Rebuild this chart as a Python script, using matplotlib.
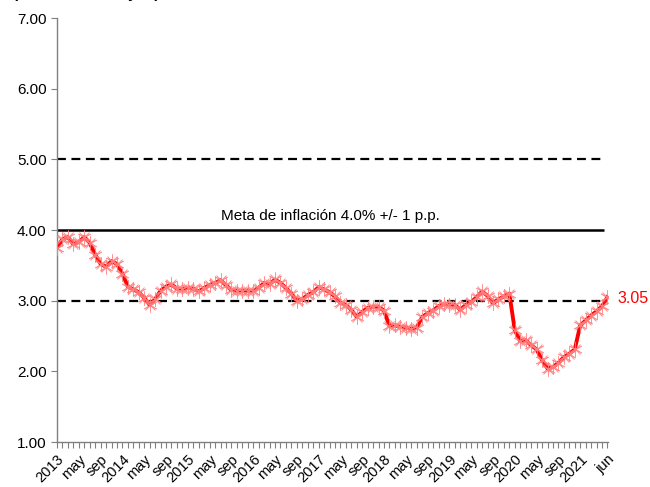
import matplotlib
matplotlib.use("Agg")
import matplotlib.pyplot as plt
import numpy as np

plt.rcParams['font.family'] = ['Liberation Sans', 'DejaVu Sans']

# Monthly values Jan 2013 .. Jun 2021
values = [
    3.75, 3.87, 3.90, 3.80, 3.83, 3.90, 3.82, 3.65, 3.52, 3.48, 3.56, 3.52,   # 2013
    3.38, 3.20, 3.16, 3.12, 3.04, 2.94, 3.02, 3.14, 3.20, 3.23, 3.17, 3.16,   # 2014
    3.18, 3.17, 3.13, 3.18, 3.22, 3.25, 3.29, 3.22, 3.15, 3.14, 3.14, 3.14,   # 2015
    3.14, 3.18, 3.25, 3.23, 3.30, 3.25, 3.18, 3.10, 3.00, 3.02, 3.08, 3.12,   # 2016
    3.19, 3.16, 3.12, 3.06, 2.97, 2.94, 2.87, 2.77, 2.84, 2.90, 2.91, 2.91,   # 2017
    2.86, 2.64, 2.65, 2.63, 2.62, 2.60, 2.62, 2.77, 2.82, 2.86, 2.92, 2.95,   # 2018
    2.94, 2.94, 2.87, 2.94, 2.98, 3.05, 3.13, 3.07, 2.96, 3.02, 3.06, 3.10,   # 2019
    2.58, 2.43, 2.44, 2.37, 2.31, 2.16, 2.04, 2.06, 2.12, 2.20, 2.25, 2.31,   # 2020
    2.65, 2.72, 2.79, 2.85, 2.92, 3.05,                                       # 2021
]
year_labels = ['2013', '2014', '2015', '2016', '2017', '2018', '2019', '2020', '2021']
month_labels = ['may', 'sep']
last_label = 'jun'
target_center = 4.0
target_upper = 5.0
target_lower = 3.0
target_text = 'Meta de inflación 4.0% +/- 1 p.p.'
last_value_text = '3.05'
yticks = [1, 2, 3, 4, 5, 6, 7]

n = len(values)
x = np.arange(n)

# tick labels every 4 months
tick_pos = []
tick_lab = []
for k, yl in enumerate(year_labels):
    base = 12 * k
    for off, lab in [(0, yl), (4, month_labels[0]), (8, month_labels[1])]:
        if base + off < n - 2:
            tick_pos.append(base + off)
            tick_lab.append(lab)
tick_pos.append(n - 1)
tick_lab.append(last_label)

fig = plt.figure(figsize=(6.5, 4.87), dpi=100)
ax = fig.add_axes([57/650, 45/487, 551/650, 424/487])

ax.hlines([target_upper, target_lower], 0, n - 1.6, colors='black', linestyles=(0, (4, 2.5)), linewidth=1.6, zorder=2)
ax.hlines([target_center], 0, n - 1.6, colors='black', linestyles='solid', linewidth=1.8, zorder=2)

ax.plot(x, values, color='#ff0000', linewidth=2.8, zorder=3)
ax.plot(x, values, linestyle='none', marker=(6, 2, 0), markersize=10, markeredgewidth=0.7,
        color='#ff8080', alpha=0.85, zorder=4)
ax.plot(x, values, linestyle='none', marker='x', markersize=7.5, markeredgewidth=0.7,
        color='#ff8080', alpha=0.85, zorder=4)

ax.text(50.1, 4.1, target_text, ha='center', va='bottom', fontsize=11, color='black')
ax.text(102.8, values[-1] - 0.02, last_value_text, ha='left', va='center', fontsize=11.5, color='#ff0000')

ax.set_xlim(0, n - 1 + 0.1)
ax.set_ylim(1, 7)
ax.set_yticks(yticks)
ax.set_yticklabels([f'{v:.2f}' for v in yticks], fontsize=11)
ax.set_xticks(np.arange(n), minor=True)
ax.set_xticks(tick_pos)
ax.set_xticklabels(tick_lab, rotation=45, ha='right', rotation_mode='anchor', fontsize=10.5)
ax.tick_params(axis='x', which='both', length=4, width=0.8, color='#808080', direction='out')
ax.tick_params(axis='y', length=4, width=0.8, color='#808080', direction='out')

for s in ['top', 'right']:
    ax.spines[s].set_visible(False)
ax.spines['left'].set_color('#808080')
ax.spines['bottom'].set_color('#808080')
ax.spines['left'].set_linewidth(1.0)
ax.spines['bottom'].set_linewidth(1.0)

fig.text(13/650, 1.0 - 1/487, '(Mediana anual y %)', ha='left', va='bottom', fontsize=11,
         fontweight='bold', color='black')

fig.savefig('out.png', dpi=100)
